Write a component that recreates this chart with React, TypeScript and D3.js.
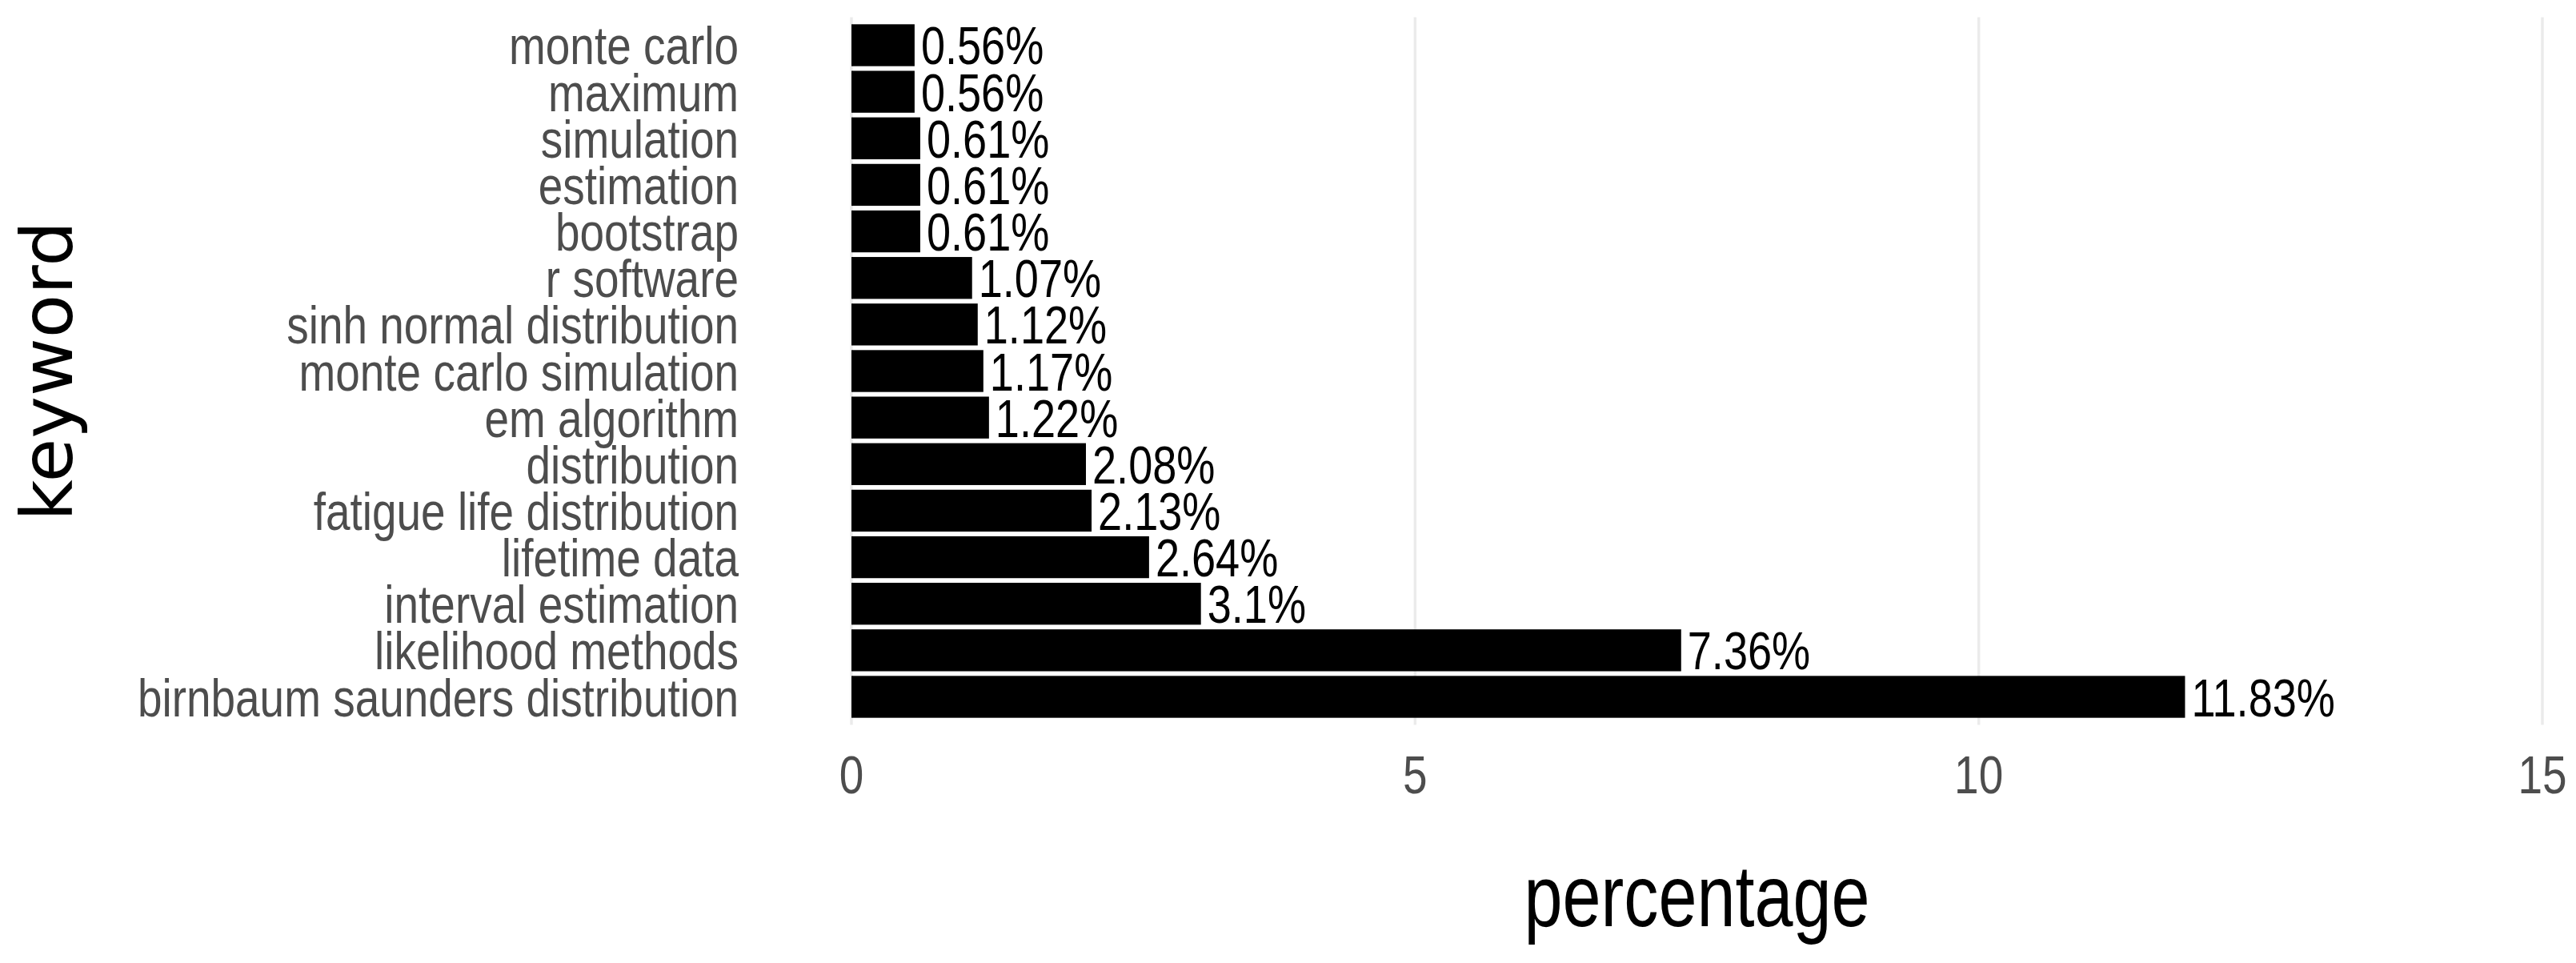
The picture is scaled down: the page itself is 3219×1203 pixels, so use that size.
import * as d3 from 'd3';

const keywords = [
  'monte carlo',
  'maximum',
  'simulation',
  'estimation',
  'bootstrap',
  'r software',
  'sinh normal distribution',
  'monte carlo simulation',
  'em algorithm',
  'distribution',
  'fatigue life distribution',
  'lifetime data',
  'interval estimation',
  'likelihood methods',
  'birnbaum saunders distribution',
];
const percentages = [
  0.56, 0.56, 0.61, 0.61, 0.61, 1.07, 1.12, 1.17, 1.22, 2.08, 2.13, 2.64, 3.1,
  7.36, 11.83,
];
const xTicks = [0, 5, 10, 15];

// no narrow face installed, so squeeze Liberation Sans horizontally
const SANS = "'Liberation Sans', Arial, sans-serif";
const SQUEEZE = 0.82;

function NarrowText({
  x,
  y,
  anchor = 'start',
  size,
  fill,
  squeeze = SQUEEZE,
  children,
}: {
  x: number;
  y: number;
  anchor?: 'start' | 'middle' | 'end';
  size: number;
  fill: string;
  squeeze?: number;
  children: string;
}) {
  return (
    <g transform={`translate(${x},${y}) scale(${squeeze},1)`}>
      <text textAnchor={anchor} fontFamily={SANS} fontSize={size} fill={fill}>
        {children}
      </text>
    </g>
  );
}

export default function App() {
  const width = 3219;
  const height = 1203;
  const panel = { left: 1064, right: 3177, top: 21.6, bottom: 905.4 };

  const x = d3.scaleLinear().domain([0, 15]).range([panel.left, panel.right]);
  const y = d3
    .scaleBand()
    .domain(keywords)
    .range([panel.top, panel.bottom])
    .paddingInner(0.1)
    .paddingOuter(0.15);

  const rows = keywords.map((k, i) => ({ k, v: percentages[i] }));

  return (
    <svg
      width={width}
      height={height}
      viewBox={`0 0 ${width} ${height}`}
      style={{ position: 'absolute', left: 0, top: 0, background: '#fff' }}
    >
      {/* vertical grid */}
      {xTicks.map((t) => (
        <line
          key={t}
          x1={x(t)}
          x2={x(t)}
          y1={panel.top}
          y2={panel.bottom}
          stroke='#ebebeb'
          strokeWidth={3.5}
        />
      ))}

      {/* bars + value labels */}
      {rows.map((r) => {
        const by = y(r.k) ?? 0;
        const cy = by + y.bandwidth() / 2;
        return (
          <g key={r.k}>
            <rect
              x={x(0)}
              y={by}
              width={x(r.v) - x(0)}
              height={y.bandwidth()}
              fill='#000'
            />
            <NarrowText x={x(r.v) + 8} y={cy + 24} size={66} fill='#000'>
              {`${r.v}%`}
            </NarrowText>
            <NarrowText
              x={923}
              y={cy + 24}
              anchor='end'
              size={67}
              fill='#4d4d4d'
            >
              {r.k}
            </NarrowText>
          </g>
        );
      })}

      {/* x tick labels */}
      {xTicks.map((t) => (
        <NarrowText
          key={t}
          x={x(t)}
          y={991}
          anchor='middle'
          size={67}
          fill='#4d4d4d'
        >
          {String(t)}
        </NarrowText>
      ))}

      {/* axis titles */}
      <NarrowText
        x={(panel.left + panel.right) / 2}
        y={1157}
        anchor='middle'
        size={110}
        fill='#000'
        squeeze={0.785}
      >
        percentage
      </NarrowText>
      <text
        transform={`translate(90,${(panel.top + panel.bottom) / 2}) rotate(-90)`}
        textAnchor='middle'
        fontFamily="'DejaVu Sans', sans-serif"
        fontSize={89}
        fill='#000'
      >
        keyword
      </text>
    </svg>
  );
}
